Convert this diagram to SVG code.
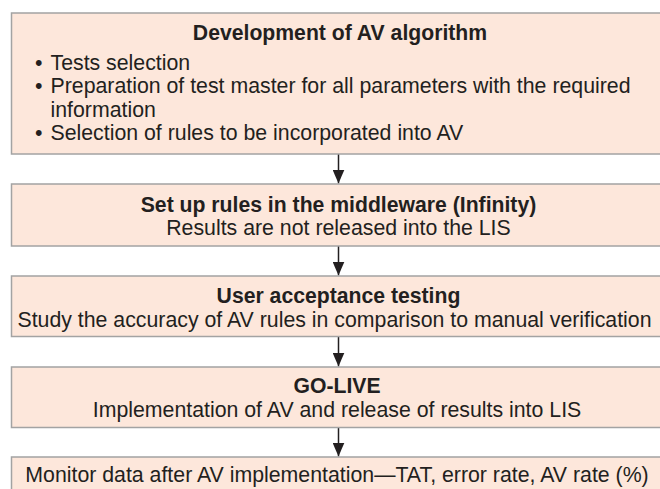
<svg xmlns="http://www.w3.org/2000/svg" width="660" height="489" viewBox="0 0 660 489">
<defs>
<style>
.box{fill:#fde7db;stroke:#a3a3a3;stroke-width:1.5}
.t{font-family:"Liberation Sans",Arial,sans-serif;font-size:21.3px;fill:#231f20}
.b{font-weight:bold;font-size:21.2px}
.c{text-anchor:middle}
.con{stroke:#231f20;stroke-width:1.5;fill:none}
</style>
<marker id="ah" markerWidth="14" markerHeight="12" refX="14" refY="6" orient="auto" markerUnits="userSpaceOnUse">
<path d="M0,0 L14,6 L0,12 Z" fill="#231f20"/>
</marker>
</defs>
<rect width="660" height="489" fill="#ffffff"/>
<g id="connectors">
<line class="con" x1="338.5" y1="154" x2="338.5" y2="183.5" marker-end="url(#ah)"/>
<line class="con" x1="338.5" y1="246" x2="338.5" y2="275.5" marker-end="url(#ah)"/>
<line class="con" x1="338.5" y1="336.5" x2="338.5" y2="366.5" marker-end="url(#ah)"/>
<line class="con" x1="338.5" y1="427.5" x2="338.5" y2="456.5" marker-end="url(#ah)"/>
</g>
<g id="n1">
<rect class="box" x="11.5" y="13" width="660" height="141"/>
<text class="t b c" x="340" y="40">Development of AV algorithm</text>
<text class="t" x="35" y="70">•</text>
<text class="t" x="50.5" y="70">Tests selection</text>
<text class="t" x="35" y="93">•</text>
<text class="t" x="50.5" y="93">Preparation of test master for all parameters with the required</text>
<text class="t" x="50.5" y="117">information</text>
<text class="t" x="35" y="140">•</text>
<text class="t" x="50.5" y="140">Selection of rules to be incorporated into AV</text>
</g>
<g id="n2">
<rect class="box" x="11.5" y="184" width="660" height="62"/>
<text class="t b c" x="338.5" y="211.5">Set up rules in the middleware (Infinity)</text>
<text class="t c" x="338.5" y="235">Results are not released into the LIS</text>
</g>
<g id="n3">
<rect class="box" x="11.5" y="276" width="660" height="60.5"/>
<text class="t b c" x="338.5" y="303">User acceptance testing</text>
<text class="t c" x="334.5" y="327">Study the accuracy of AV rules in comparison to manual verification</text>
</g>
<g id="n4">
<rect class="box" x="11.5" y="367" width="660" height="60.5"/>
<text class="t b c" x="337" y="393">GO-LIVE</text>
<text class="t c" x="337" y="417">Implementation of AV and release of results into LIS</text>
</g>
<g id="n5">
<rect class="box" x="11.5" y="457" width="660" height="60"/>
<text class="t c" x="337" y="482">Monitor data after AV implementation—TAT, error rate, AV rate (%)</text>
</g>
</svg>
